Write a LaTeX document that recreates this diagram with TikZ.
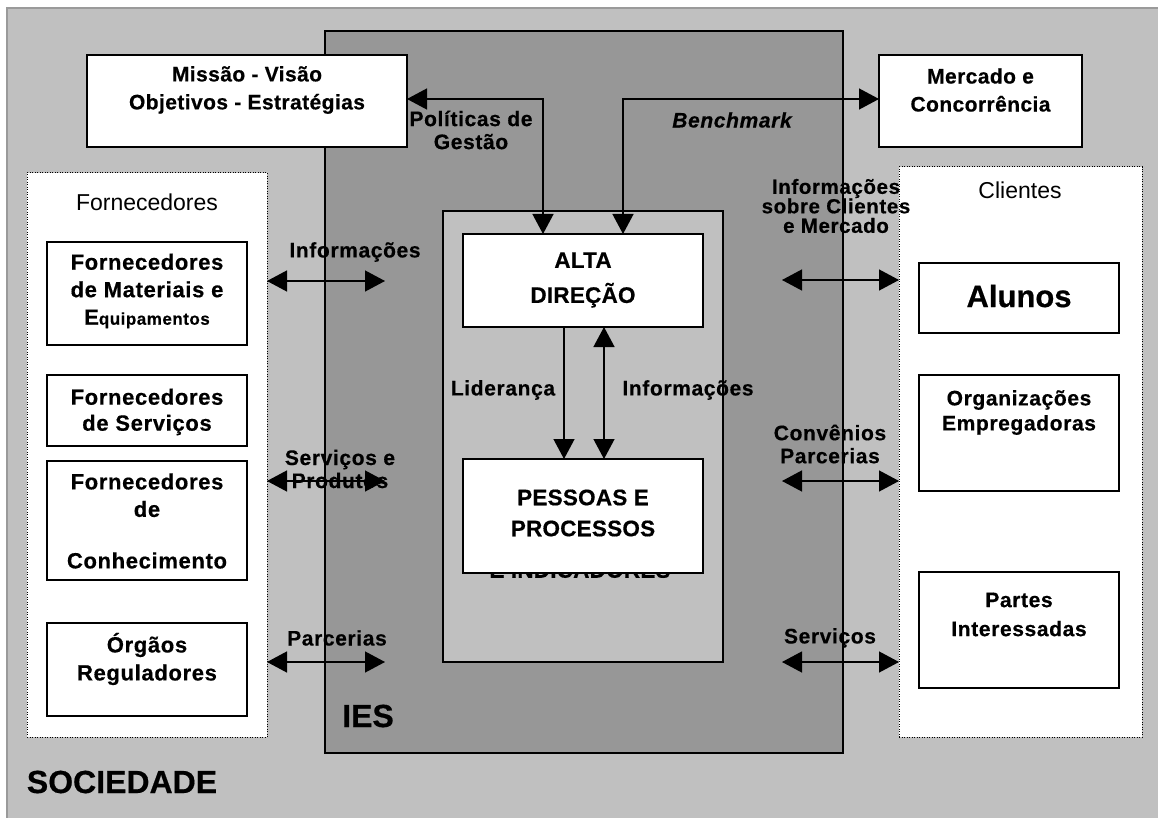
\documentclass[tikz,border=0pt]{standalone}
\usepackage{fontspec}
\setmainfont{Liberation Sans}[BoldFeatures={FakeBold=0.5},BoldItalicFeatures={FakeBold=0.5}]
\usetikzlibrary{arrows.meta}
\definecolor{soc}{HTML}{C0C0C0}
\definecolor{iesgray}{HTML}{979797}
\definecolor{socline}{HTML}{9A9A9A}
\begin{document}
\begin{tikzpicture}[x=1pt,y=-1pt,
  wbox/.style={draw=black, fill=white, line width=1.3pt, inner sep=0pt, outer sep=0pt},
  dotbox/.style={draw=black, fill=white, line width=1pt, dash pattern=on 1pt off 1.5pt, inner sep=0pt, outer sep=0pt},
  btxt/.style={font=\bfseries\fontsize{22}{27.5}\selectfont\addfontfeature{LetterSpace=3}, align=center, inner sep=0pt},
  bigtxt/.style={font=\bfseries\fontsize{22.5}{35}\selectfont\addfontfeature{LetterSpace=1}, align=center, inner sep=0pt},
  lbl/.style={font=\bfseries\fontsize{21}{23}\selectfont\addfontfeature{LetterSpace=3}, align=center, inner sep=0pt},
  grp/.style={font=\fontsize{23}{27}\selectfont, align=center, inner sep=0pt},
  huge/.style={font=\bfseries\fontsize{32}{36}\selectfont, inner sep=0pt},
  conn/.style={line width=1.3pt, draw=black},
  dbl/.style={conn, {Triangle[length=20pt,width=21pt]}-{Triangle[length=20pt,width=21pt]}},
  sgl/.style={conn, -{Triangle[length=20pt,width=21pt]}},
]
\useasboundingbox (0,0) rectangle (1158,818);
\fill[white] (0,0) rectangle (1158,818);
% SOCIEDADE frame
\path[fill=soc, draw=socline, line width=1.5pt] (7,8) rectangle (1175,835);
% IES
\node[draw=black, fill=iesgray, line width=1.3pt, minimum width=518pt, minimum height=722pt, inner sep=0pt] (ies) at (584,392) {};
% supplier / client groups
\node[dotbox, minimum width=240pt, minimum height=564pt] (forn) at (147,455) {};
\node[dotbox, minimum width=243pt, minimum height=570pt] (cli) at (1020.5,452) {};
\node[grp] (fornt) at (147,202) {Fornecedores};
\node[grp] (clit) at (1020,190) {Clientes};
% core
\node[draw=black, fill=soc, line width=1.3pt, minimum width=280pt, minimum height=451pt, inner sep=0pt] (core) at (583,436.5) {};
\node[bigtxt] (eind) at (580,570) {E INDICADORES};
% top boxes
\node[wbox, minimum width=320pt, minimum height=92pt] (mv) at (247,101) {};
\node[btxt, font=\bfseries\fontsize{21}{28}\selectfont\addfontfeature{LetterSpace=2}] (mvt) at (247,90) {Missão - Visão\\Objetivos - Estratégias};
\node[wbox, minimum width=203pt, minimum height=92pt] (mc) at (980.5,101) {};
\node[btxt, font=\bfseries\fontsize{21}{28}\selectfont\addfontfeature{LetterSpace=2}] (mct) at (980.5,90) {Mercado e\\Concorrência};
% core boxes
\node[wbox, minimum width=240pt, minimum height=93pt] (ad) at (583,280.5) {};
\node[bigtxt] (adt) at (583,280) {ALTA\\DIREÇÃO};
\node[wbox, minimum width=240pt, minimum height=114pt] (pp) at (583,516) {};
\node[bigtxt, font=\bfseries\fontsize{22.5}{31}\selectfont\addfontfeature{LetterSpace=1}] (ppt) at (583,513) {PESSOAS E\\PROCESSOS};
% supplier boxes
\node[wbox, minimum width=200pt, minimum height=103pt] (f1) at (147,293.5) {};
\node[btxt] (f1t) at (147,291) {Fornecedores\\de Materiais e\\{\fontsize{22}{27.5}\selectfont E}{\fontsize{17}{27.5}\selectfont\addfontfeature{LetterSpace=3}quipamentos}};
\node[wbox, minimum width=200pt, minimum height=71pt] (f2) at (147,410.5) {};
\node[btxt, font=\bfseries\fontsize{22}{26}\selectfont\addfontfeature{LetterSpace=3}] (f2t) at (147,412) {Fornecedores\\de Serviços};
\node[wbox, minimum width=200pt, minimum height=119pt] (f3) at (147,520.5) {};
\node[btxt] (f3t) at (147,521) {Fornecedores\\de\\[24pt]Conhecimento};
\node[wbox, minimum width=200pt, minimum height=93pt] (f4) at (147,669.5) {};
\node[btxt, font=\bfseries\fontsize{22}{28}\selectfont\addfontfeature{LetterSpace=3}] (f4t) at (147,659) {Órgãos\\Reguladores};
% client boxes
\node[wbox, minimum width=200pt, minimum height=70pt] (al) at (1019,298) {};
\node[font=\bfseries\fontsize{31}{35}\selectfont, inner sep=0pt] (alt) at (1019,296) {Alunos};
\node[wbox, minimum width=200pt, minimum height=116pt] (og) at (1019,433) {};
\node[btxt, font=\bfseries\fontsize{21}{25}\selectfont\addfontfeature{LetterSpace=3}] (ogt) at (1019,412.5) {Organizações\\Empregadoras};
\node[wbox, minimum width=200pt, minimum height=116pt] (pi) at (1019,630) {};
\node[btxt, font=\bfseries\fontsize{21}{29}\selectfont\addfontfeature{LetterSpace=3}] (pit) at (1019,614.5) {Partes\\Interessadas};
% top connectors
\draw[dbl] ([yshift=2pt]mv.east) -| ([xshift=-40pt]ad.north);
\draw[dbl] ([xshift=40pt]ad.north) |- ([yshift=2pt]mc.west);
% core connectors
\draw[sgl] ([xshift=-19pt]ad.south) -- ([xshift=-19pt]pp.north);
\draw[dbl] ([xshift=21pt]ad.south) -- ([xshift=21pt]pp.north);
% left connectors
\coordinate (la1) at (385,281);
\coordinate (la2) at (385,481);
\coordinate (la3) at (385,662);
\draw[dbl] (forn.east |- la1) -- (la1);
\draw[dbl] (forn.east |- la2) -- (la2);
\draw[dbl] (forn.east |- la3) -- (la3);
% right connectors
\coordinate (ra1) at (782,280);
\coordinate (ra2) at (782,481);
\coordinate (ra3) at (782,662);
\draw[dbl] (ra1) -- (ra1 -| cli.west);
\draw[dbl] (ra2) -- (ra2 -| cli.west);
\draw[dbl] (ra3) -- (ra3 -| cli.west);
% labels
\node[lbl] (lpol) at (471,130) {Políticas de\\Gestão};
\node[lbl, font=\bfseries\itshape\fontsize{21}{23}\selectfont\addfontfeature{LetterSpace=3}] (lben) at (732,120) {Benchmark};
\node[lbl] (linf) at (355,252) {Informações};
\node[lbl] (lsp) at (340,469) {Serviços e\\Produtos};
\node[lbl] (lpar) at (337,638) {Parcerias};
\node[lbl, font=\bfseries\fontsize{20.5}{19.5}\selectfont\addfontfeature{LetterSpace=3}] (lisc) at (836,206) {Informações\\sobre Clientes\\e Mercado};
\node[lbl] (lcon) at (830,444) {Convênios\\Parcerias};
\node[lbl] (lser) at (830,638) {Serviços};
\node[lbl] (llid) at (503,390) {Liderança};
\node[lbl] (linf2) at (688,390) {Informações};
\node[huge] (lies) at (368,716) {IES};
\node[huge] (lsoc) at (122,782) {SOCIEDADE};
\end{tikzpicture}
\end{document}
